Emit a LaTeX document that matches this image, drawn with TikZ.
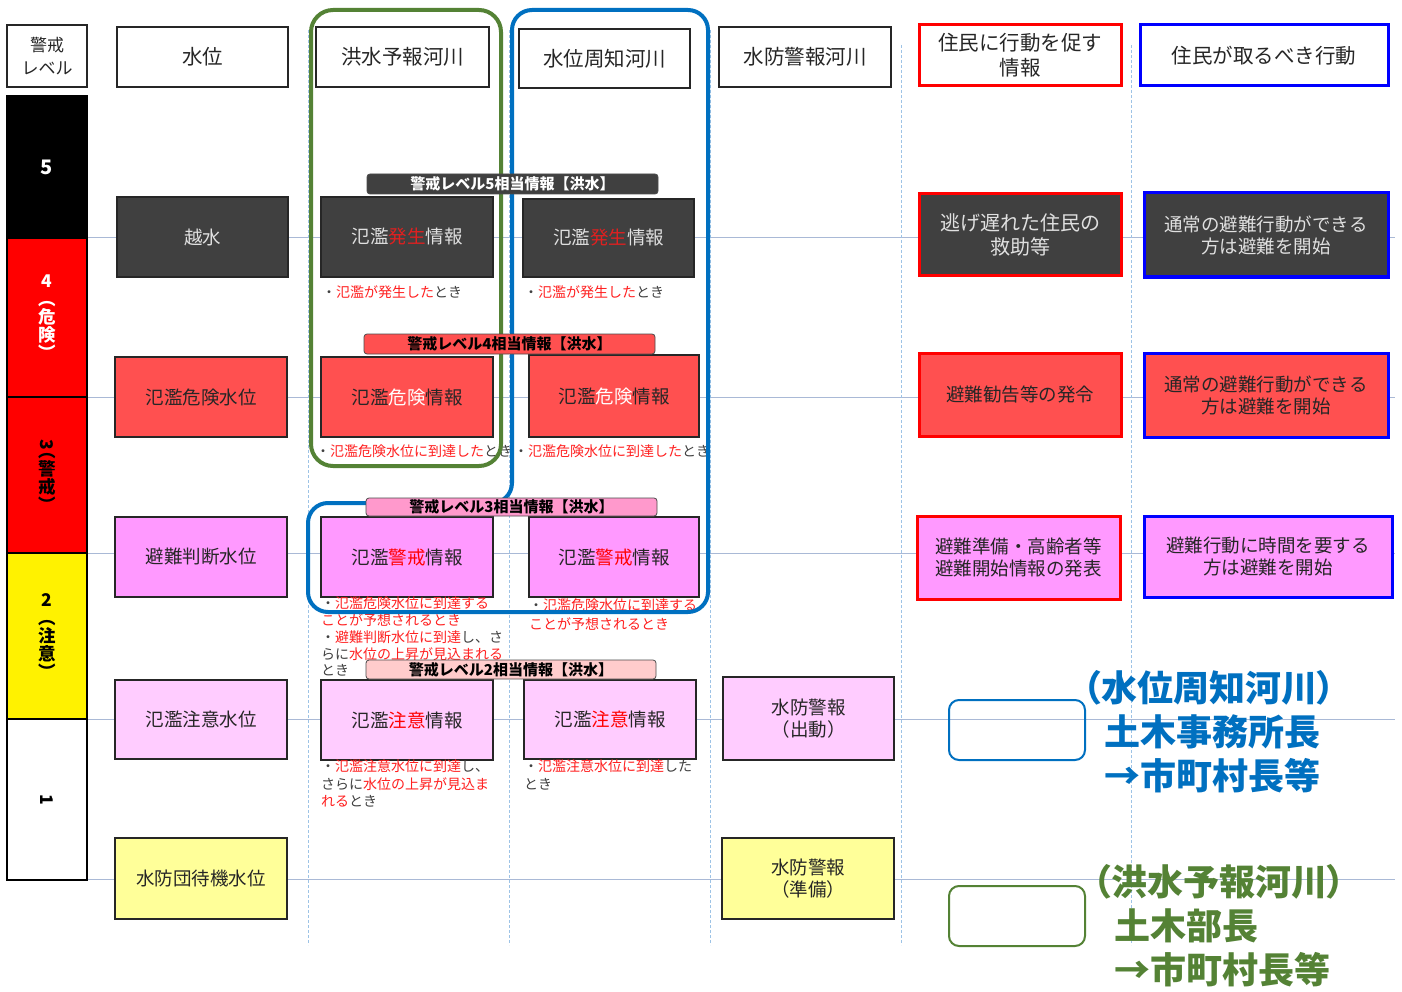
\documentclass[tikz,border=0pt]{standalone}
\usepackage{fontspec}
\setmainfont{Noto Sans CJK JP}
\definecolor{dkfill}{HTML}{404040}
\definecolor{rfill}{HTML}{FF5050}
\definecolor{pfill}{HTML}{FF99FF}
\definecolor{lpfill}{HTML}{FFCCFF}
\definecolor{yfill}{HTML}{FFFF99}
\definecolor{barthree}{HTML}{FF99CC}
\definecolor{bartwo}{HTML}{FFCCCC}
\definecolor{grn}{HTML}{548235}
\definecolor{blu}{HTML}{0070C0}
\definecolor{gline}{HTML}{A9B9D6}
\definecolor{dline}{HTML}{9DC3E6}
\definecolor{txt}{HTML}{262626}
\definecolor{ntxt}{HTML}{404040}
\definecolor{nred}{HTML}{FF2020}
\definecolor{dred}{HTML}{E02020}
\definecolor{ltxt}{HTML}{E0E0E0}
\newcommand\rd[1]{\textcolor{nred}{#1}}
\newcommand\fs[2]{\fontsize{#1}{#2}\selectfont}
\newcommand\lsk{\lineskiplimit=-50pt\relax}
\newcommand\bx[7]{%
  \pgfmathsetmacro\myw{#4-#2}\pgfmathsetmacro\myh{#5-#3}%
  \node[#6, minimum width=\myw pt, minimum height=\myh pt] (#1) at ({(#2+#4)/2},{(#3+#5)/2}) {#7};}
\begin{document}
\begin{tikzpicture}[x=1pt,y=-1pt,
  box/.style={draw=black!85, line width=2pt, inner sep=0pt, align=center, text=txt, font=\fs{18.5}{22}},
  hdr/.style={box, fill=white, font=\fs{20.5}{25}},
  rbox/.style={box, draw=red, line width=3pt},
  bbox/.style={box, draw=blue, line width=3pt},
  lvl/.style={draw=black, line width=2pt, inner sep=0pt, align=center, font=\bfseries\fs{17.5}{18}\lsk},
  bar/.style={draw=black!70, line width=0.8pt, rounded corners=3pt, inner sep=0pt, font=\bfseries\fs{15}{18}},
  note/.style={inner sep=0pt, anchor=west, text=ntxt, font=\fs{14}{17}, align=left},
  hl/.style={gline, line width=1pt},
  vl/.style={dline, line width=1pt, dash pattern=on 3pt off 2pt},
  lgbox/.style={line width=2pt, rounded corners=10pt, inner sep=0pt},
  lgt/.style={inner sep=0pt, anchor=west, font=\bfseries\fs{36}{44}\addfontfeatures{RawFeature=+palt}},
]
\useasboundingbox (0,0) rectangle (1402,992);
\fill[white] (0,0) rectangle (1402,992);

% grid lines
\foreach \yy in {238,397,553,719,879} \draw[hl] (87,\yy) -- (1395,\yy);
\foreach \xx/\ya in {308/30,509/30,710/30,901/45,1131/45} \draw[vl] (\xx,\ya) -- (\xx,945);

% headers
\bx{hd0}{7}{25}{87}{87}{hdr, font=\fs{17}{23}}{警戒\\レベル}
\bx{hd1}{117}{27}{288}{87}{hdr}{水位}
\bx{hd2}{316}{27}{489}{87}{hdr}{洪水予報河川}
\bx{hd3}{519}{29}{690}{88}{hdr}{水位周知河川}
\bx{hd4}{719}{27}{891}{87}{hdr}{水防警報河川}
\bx{hd5}{919}{25}{1121}{86}{hdr, draw=red, line width=3pt}{住民に行動を促す\\情報}
\bx{hd6}{1140}{25}{1388}{86}{hdr, draw=blue, line width=3pt}{住民が取るべき行動}

% level column
\bx{L5}{7}{96}{87}{238}{lvl, fill=black, text=white, font=\bfseries\fs{20}{20}}{5}
\bx{L4}{7}{238}{87}{397}{lvl, fill=red, text=white}{4\\︵\\危\\険\\︶}
\bx{L3}{7}{397}{87}{553}{lvl, fill=red, text=black}{\rotatebox{-90}{3}\\︵\\警\\戒\\︶}
\bx{L2}{7}{553}{87}{719}{lvl, fill=yellow, text=black}{2\\︵\\注\\意\\︶}
\bx{L1}{7}{719}{87}{880}{lvl, fill=white, text=black}{\rotatebox{-90}{1}}

% row 5
\bx{r5a}{117}{197}{288}{277}{box, fill=dkfill, text=ltxt}{越水}
\bx{r5b}{321}{197}{493}{277}{box, fill=dkfill, text=ltxt}{氾濫\textcolor{dred}{発生}情報}
\bx{r5c}{523}{199}{694}{277}{box, fill=dkfill, text=ltxt}{氾濫\textcolor{dred}{発生}情報}
\bx{r5d}{919}{194}{1121}{276}{rbox, fill=dkfill, text=ltxt, font=\fs{20}{24}}{逃げ遅れた住民の\\救助等}
\bx{r5e}{1144}{193}{1388}{277}{bbox, fill=dkfill, text=ltxt}{通常の避難行動ができる\\方は避難を開始}

% row 4
\bx{r4a}{115}{357}{287}{437}{box, fill=rfill}{氾濫危険水位}
\bx{r4b}{321}{357}{493}{437}{box, fill=rfill}{氾濫\textcolor{white}{危険}情報}
\bx{r4c}{529}{355}{699}{437}{box, fill=rfill}{氾濫\textcolor{white}{危険}情報}
\bx{r4d}{919}{353}{1121}{436}{rbox, fill=rfill}{避難勧告等の発令}
\bx{r4e}{1144}{353}{1388}{437}{bbox, fill=rfill}{通常の避難行動ができる\\方は避難を開始}

% row 3
\bx{r3a}{115}{517}{287}{597}{box, fill=pfill}{避難判断水位}
\bx{r3b}{321}{517}{493}{597}{box, fill=pfill}{氾濫\textcolor{red}{警戒}情報}
\bx{r3c}{529}{517}{699}{597}{box, fill=pfill}{氾濫\textcolor{red}{警戒}情報}
\bx{r3d}{917}{516}{1120}{599}{rbox, fill=pfill}{避難準備・高齢者等\\避難開始情報の発表}
\bx{r3e}{1144}{516}{1392}{597}{bbox, fill=pfill}{避難行動に時間を要する\\方は避難を開始}

% row 2
\bx{r2a}{115}{680}{287}{759}{box, fill=lpfill}{氾濫注意水位}
\bx{r2b}{321}{680}{493}{760}{box, fill=lpfill}{氾濫\textcolor{red}{注意}情報}
\bx{r2c}{524}{680}{696}{759}{box, fill=lpfill}{氾濫\textcolor{red}{注意}情報}
\bx{r2d}{723}{677}{894}{760}{box, fill=lpfill}{水防警報\\（出動）}

% row 1
\bx{r1a}{115}{838}{287}{919}{box, fill=yfill}{水防団待機水位}
\bx{r1d}{722}{838}{894}{919}{box, fill=yfill}{水防警報\\（準備）}

% notes
\node[note] (n5b) at (322,292) {・\rd{氾濫が発生した}とき};
\node[note] (n5c) at (524,292) {・\rd{氾濫が発生した}とき};
\node[note] (n4b) at (316,451) {・\rd{氾濫危険水位に到達した}とき};
\node[note] (n4c) at (514,451) {・\rd{氾濫危険水位に到達した}とき};
\node[note, anchor=north west, font=\fs{14}{16.75}] (n3b) at (321,597)
  {・\rd{氾濫危険水位に到達する}\\\rd{ことが予想されるとき}\\・\rd{避難判断水位に到達}し、さ\\らに\rd{水位の上昇が見込まれる}\\とき};
\node[note, anchor=north west, font=\fs{14}{19}] (n3c) at (529,599)
  {・\rd{氾濫危険水位に到達する}\\\rd{ことが予想されるとき}};
\node[note, anchor=north west, font=\fs{14}{17.5}] (n2b) at (321,760)
  {・\rd{氾濫注意水位に到達}し、\\さらに\rd{水位の上昇が見込ま}\\\rd{れる}とき};
\node[note, anchor=north west, font=\fs{14}{18}] (n2c) at (524,760)
  {・\rd{氾濫注意水位に到達}した\\とき};

% river-type outlines
\draw[grn, line width=4pt, rounded corners=22pt] (311,10) rectangle (501,466);
\draw[blu, line width=4pt, rounded corners=20pt]
  (512,10) -- (708,10) -- (708,612) -- (308,612) -- (308,503) -- (512,503) -- cycle;

% level bars
\bx{b5}{367}{174}{658}{194}{bar, fill=dkfill, text=white}{警戒レベル5相当情報【洪水】}
\bx{b4}{364}{334}{655}{354}{bar, fill=rfill, text=black}{警戒レベル4相当情報【洪水】}
\bx{b3}{366}{498}{657}{516}{bar, fill=barthree, text=black}{警戒レベル3相当情報【洪水】}
\bx{b2}{366}{660}{656}{679}{bar, fill=bartwo, text=black}{警戒レベル2相当情報【洪水】}

% legend
\bx{lgb}{949}{700}{1085}{760}{lgbox, draw=blu}{}
\bx{lgg}{949}{886}{1085}{946}{lgbox, draw=grn}{}
\node[lgt, text=blu] (lb1) at (1083,688) {（水位周知河川）};
\node[lgt, text=blu] (lb2) at (1104,732) {土木事務所長};
\node[lgt, text=blu] (lb3) at (1104,776) {→市町村長等};
\node[lgt, text=grn] (lg1) at (1093,882) {（洪水予報河川）};
\node[lgt, text=grn] (lg2) at (1114,926) {土木部長};
\node[lgt, text=grn] (lg3) at (1114,970) {→市町村長等};
\end{tikzpicture}
\end{document}
